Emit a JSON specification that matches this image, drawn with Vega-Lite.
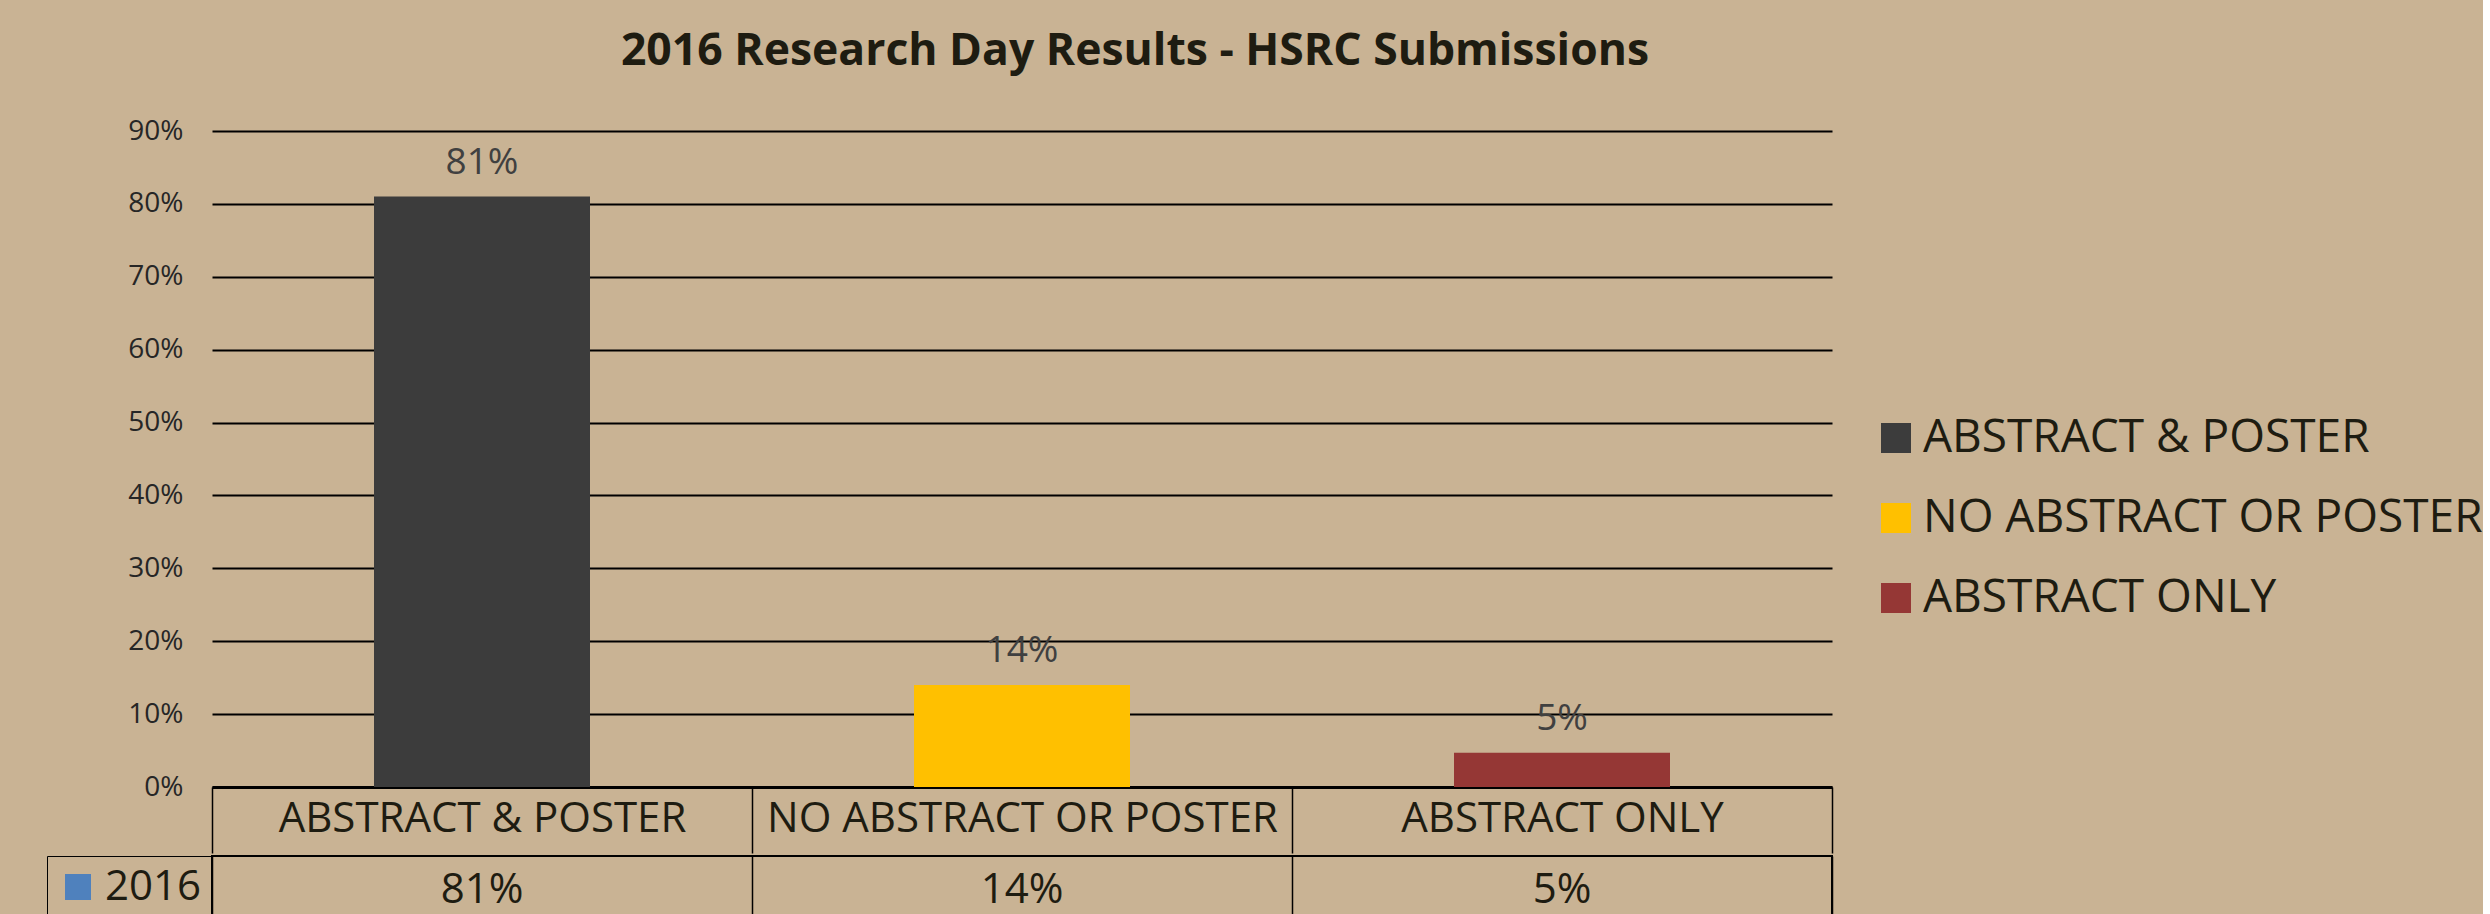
{
  "$schema": "https://vega.github.io/schema/vega-lite/v6.json",
  "background": "#C9B394",
  "padding": {"left": 45, "top": 28, "right": 0, "bottom": 0},
  "config": {"font": "Open Sans", "view": {"stroke": null}, "concat": {"spacing": 0}},
  "datasets": {
    "results": [
      {"category": "ABSTRACT & POSTER", "share": 0.81, "series": "2016"},
      {"category": "NO ABSTRACT OR POSTER", "share": 0.14, "series": "2016"},
      {"category": "ABSTRACT ONLY", "share": 0.047, "series": "2016"}
    ]
  },
  "resolve": {"scale": {"color": "independent"}, "legend": {"color": "independent"}},
  "vconcat": [
    {
      "width": 1620,
      "height": 656,
      "data": {"name": "results"},
      "title": {
        "text": "2016 Research Day Results - HSRC Submissions",
        "anchor": "middle",
        "frame": "group",
        "dx": 113,
        "fontSize": 44.5,
        "fontWeight": "bold",
        "color": "#1E1C11",
        "font": "Open Sans",
        "offset": 43
      },
      "encoding": {
        "x": {
          "field": "category",
          "type": "nominal",
          "sort": null,
          "scale": {"paddingInner": 0, "paddingOuter": 0},
          "axis": {
            "title": null,
            "labelAngle": 0,
            "labelFontSize": 42,
            "labelColor": "#1E1C11",
            "labelLimit": 800,
            "labelBaseline": "middle",
            "labelPadding": -35,
            "tickBand": "extent",
            "ticks": true,
            "tickSize": 66,
            "tickColor": "#000000",
            "tickWidth": 1.5,
            "domain": true,
            "domainColor": "#000000",
            "domainWidth": 3,
            "grid": false
          }
        },
        "y": {
          "field": "share",
          "type": "quantitative",
          "scale": {"domain": [0, 0.9], "nice": false},
          "axis": {
            "title": null,
            "values": [0, 0.1, 0.2, 0.3, 0.4, 0.5, 0.6, 0.7, 0.8, 0.9],
            "format": ".0%",
            "grid": true,
            "gridColor": "#000000",
            "gridWidth": 2,
            "domain": false,
            "ticks": false,
            "labelFontSize": 28,
            "labelColor": "#262626",
            "labelPadding": 29
          }
        }
      },
      "layer": [
        {
          "mark": {"type": "bar", "width": {"band": 0.4}},
          "encoding": {
            "color": {
              "field": "category",
              "type": "nominal",
              "sort": null,
              "scale": {
                "domain": ["ABSTRACT & POSTER", "NO ABSTRACT OR POSTER", "ABSTRACT ONLY"],
                "range": ["#3C3C3C", "#FFC000", "#953735"]
              },
              "legend": {
                "title": null,
                "orient": "none",
                "legendX": 1661,
                "legendY": 284,
                "symbolType": "square",
                "symbolSize": 900,
                "symbolStrokeWidth": 0,
                "labelFontSize": 46,
                "labelColor": "#1E1C11",
                "labelOffset": 4,
                "rowPadding": 34,
                "labelLimit": 1000,
                "padding": 0
              }
            }
          }
        },
        {
          "mark": {"type": "text", "dy": -23, "baseline": "alphabetic", "fontSize": 37, "color": "#404040"},
          "encoding": {"text": {"field": "share", "type": "quantitative", "format": ".0%"}}
        }
      ]
    },
    {
      "width": 1620,
      "height": 68,
      "view": {"stroke": "#000000", "strokeWidth": 2},
      "data": {"name": "results"},
      "encoding": {
        "x": {
          "field": "category",
          "type": "nominal",
          "sort": null,
          "scale": {"paddingInner": 0, "paddingOuter": 0},
          "axis": {
            "title": null,
            "orient": "top",
            "labels": false,
            "ticks": false,
            "domain": false,
            "grid": true,
            "tickBand": "extent",
            "gridColor": "#000000",
            "gridWidth": 1.5
          }
        }
      },
      "layer": [
        {
          "mark": {"type": "text", "fontSize": 42, "baseline": "middle", "color": "#1E1C11"},
          "encoding": {"text": {"field": "share", "type": "quantitative", "format": ".0%"}}
        },
        {
          "mark": {"type": "square", "opacity": 0, "filled": true},
          "encoding": {
            "color": {
              "field": "series",
              "type": "nominal",
              "scale": {"range": ["#4F81BD"]},
              "legend": {
                "title": null,
                "orient": "left",
                "offset": 0,
                "symbolType": "square",
                "symbolSize": 676,
                "symbolStrokeWidth": 0,
                "symbolOpacity": 1,
                "labelFontSize": 42,
                "labelColor": "#1E1C11",
                "labelOffset": 6,
                "padding": 10,
                "strokeColor": "#000000"
              }
            }
          }
        }
      ]
    }
  ]
}
